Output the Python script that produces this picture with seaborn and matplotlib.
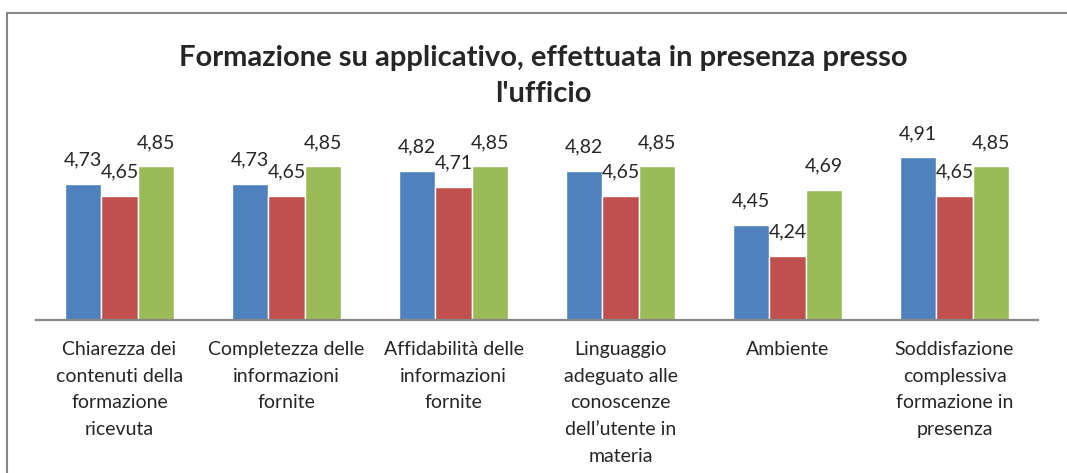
import numpy as np
import pandas as pd
import matplotlib
matplotlib.use("Agg")
import matplotlib.pyplot as plt
import matplotlib.patches as patches
import seaborn as sns

# dati
categorie = [
    "Chiarezza dei\ncontenuti della\nformazione\nricevuta",
    "Completezza delle\ninformazioni\nfornite",
    "Affidabilità delle\ninformazioni\nfornite",
    "Linguaggio\nadeguato alle\nconoscenze\ndell\u2019utente in\nmateria",
    "Ambiente",
    "Soddisfazione\ncomplessiva\nformazione in\npresenza",
]
serie_1 = [4.73, 4.73, 4.82, 4.82, 4.45, 4.91]
serie_2 = [4.65, 4.65, 4.71, 4.65, 4.24, 4.65]
serie_3 = [4.85, 4.85, 4.85, 4.85, 4.69, 4.85]
nomi_serie = ["Serie 1", "Serie 2", "Serie 3"]
colori = ["#4F81BD", "#C0504D", "#9BBB59"]
titolo = "Formazione su applicativo, effettuata in presenza presso\nl'ufficio"

df = pd.DataFrame({
    "categoria": categorie * 3,
    "serie": np.repeat(nomi_serie, len(categorie)),
    "valore": serie_1 + serie_2 + serie_3,
})

sns.set_style("white")
plt.rcParams["font.family"] = ["Lato", "DejaVu Sans"]

fig = plt.figure(figsize=(10.67, 4.73), dpi=100)
ax = fig.add_axes([36 / 1067, 153 / 473, 1002 / 1067, 175.7 / 473])

sns.barplot(data=df, x="categoria", y="valore", hue="serie", palette=colori,
            width=0.65, ax=ax, legend=False, saturation=1, errorbar=None)

ax.set_ylim(3.8, 5.0)
ax.set_xlim(-0.5, 5.5)
ax.set_xlabel("")
ax.set_ylabel("")
ax.set_yticks([])
for s in ["top", "right", "left"]:
    ax.spines[s].set_visible(False)
ax.spines["bottom"].set_color("#878787")
ax.spines["bottom"].set_linewidth(1.6)
ax.tick_params(axis="x", length=0, pad=15, labelsize=14)
for lab in ax.get_xticklabels():
    lab.set_linespacing(1.7)
    lab.set_va("top")

# etichette dei valori
for cont in ax.containers:
    for bar in cont:
        v = bar.get_height()
        ax.annotate(f"{v:.2f}".replace(".", ","),
                    (bar.get_x() + bar.get_width() / 2, v),
                    xytext=(0, 17), textcoords="offset points",
                    ha="center", va="center", fontsize=14,
                    annotation_clip=False)

fig.text(0.509, 1 - 76 / 473, titolo, ha="center", va="center",
         fontsize=21, fontweight="bold", linespacing=1.5)

# cornice del grafico
fig.patches.append(patches.Rectangle((7 / 1067, -0.1), 1.2, 1 - 13 / 473 + 0.1,
                                     transform=fig.transFigure, fill=False,
                                     edgecolor="#878787", linewidth=1.5))

fig.savefig("out.png", dpi=100)
